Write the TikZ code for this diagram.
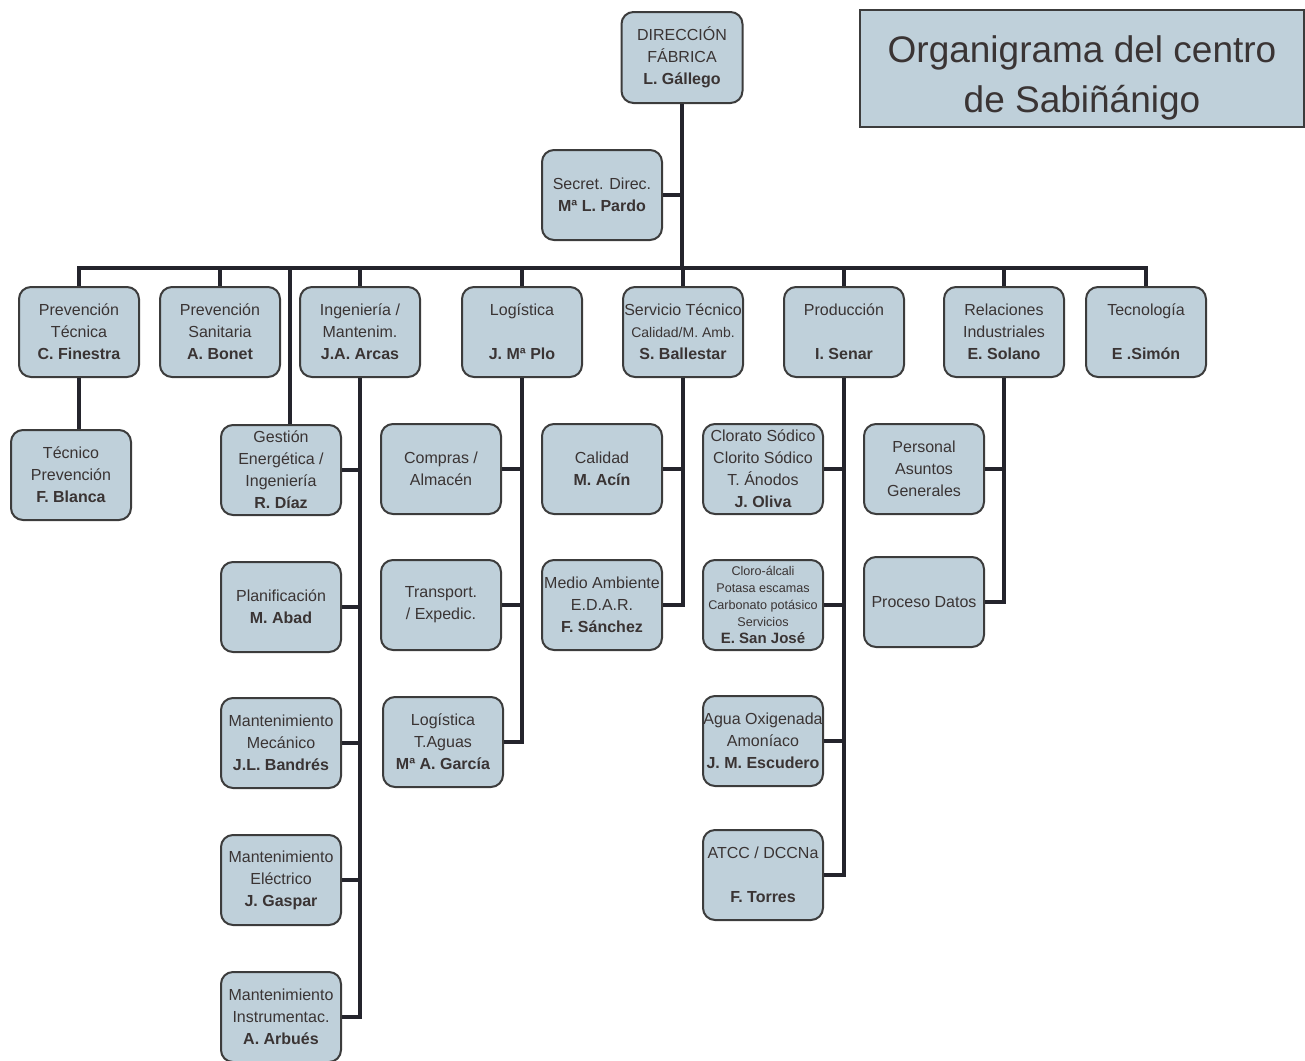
\documentclass[tikz,border=0pt]{standalone}
\usepackage{fontspec}
\setmainfont{Liberation Sans}
\usepackage{tikz}
\usepackage{xcolor}
\usetikzlibrary{positioning}
\newcommand{\orgfont}{\fontsize{8}{11}\selectfont}
\newcommand{\clorofont}{\fontsize{6.3}{8.5}\selectfont}
\newcommand{\fitline}[1]{\makebox[58pt]{#1}}
\definecolor{orgfill}{HTML}{BFD0DA}
\definecolor{orgedge}{HTML}{3C3C3C}
\definecolor{orgink}{HTML}{3A3434}
\definecolor{orgwire}{HTML}{24242C}
\tikzset{
  orgBox/.style={draw=orgedge, line width=1pt, fill=orgfill, rounded corners=6pt, align=center, inner sep=1pt, minimum width=60pt, minimum height=45pt, text=orgink, font=\orgfont},
  titleBox/.style={draw=orgedge, line width=0.8pt, fill=orgfill, align=center, text=orgink, minimum width=222pt, minimum height=58.5pt, font=\fontsize{18.5}{25}\selectfont},
  orgLine/.style={line width=2pt, draw=orgwire}
}

\begin{document}
\begin{tikzpicture}[x=0.5pt, y=-0.5pt]
  \useasboundingbox (0,0) rectangle (1305,1060);

  \node[titleBox] (title) at (1082,68.5) {\rule{0pt}{23pt}Organigrama del centro\\ de Sabiñánigo};
  \node[orgBox, minimum width=60.5pt, minimum height=45.5pt] (dir) at (682,57.5) {DIRECCIÓN\\ FÁBRICA\\ \textbf{L. Gállego}};
  \node[orgBox] (secret) at (602,195) {Secret. Direc.\\ \textbf{Mª L. Pardo}};
  \coordinate (bus) at (682,268);

  % first level
  \node[orgBox] (prevtec) at (79,332) {Prevención\\ Técnica\\ \textbf{C. Finestra}};
  \node[orgBox, right=9.5pt of prevtec] (prevsan) {Prevención\\ Sanitaria\\ \textbf{A. Bonet}};
  \node[orgBox, right=9pt of prevsan] (ing) {Ingeniería /\\ Mantenim.\\ \textbf{J.A. Arcas}};
  \node[orgBox, right=20pt of ing] (log) {Logística\\ ~\\ \textbf{J. Mª Plo}};
  \node[orgBox, right=19.5pt of log] (servtec) {\fitline{Servicio Técnico}\\ {\fontsize{7}{11}\selectfont Calidad/M. Amb.}\\ \textbf{S. Ballestar}};
  \node[orgBox, right=19.5pt of servtec] (prod) {Producción\\ ~\\ \textbf{I. Senar}};
  \node[orgBox, right=19pt of prod] (rel) {Relaciones\\ Industriales\\ \textbf{E. Solano}};
  \node[orgBox, right=10pt of rel] (tecno) {Tecnología\\ ~\\ \textbf{E .Simón}};

  % second level
  \node[orgBox] (tecprev) at (71,475) {Técnico\\ Prevención\\ \textbf{F. Blanca}};

  \node[orgBox] (gest) at (281,470) {Gestión\\ Energética /\\ Ingeniería\\ \textbf{R. Díaz}};
  \node[orgBox, below=22.5pt of gest] (plan) {Planificación\\ \textbf{M. Abad}};
  \node[orgBox, below=22pt of plan] (mmec) {Mantenimiento\\ Mecánico\\ \textbf{J.L. Bandrés}};
  \node[orgBox, below=22.5pt of mmec] (melec) {Mantenimiento\\ Eléctrico\\ \textbf{J. Gaspar}};
  \node[orgBox, below=22.5pt of melec] (minst) {Mantenimiento\\ Instrumentac.\\ \textbf{A. Arbués}};

  \node[orgBox] (compras) at (441,469) {Compras /\\ Almacén};
  \node[orgBox, below=22pt of compras] (transp) {Transport.\\ / Expedic.};
  \node[orgBox, below=22.5pt of transp, xshift=1pt] (aguas) {Logística\\ T.Aguas\\ \textbf{Mª A. García}};

  \node[orgBox] (calidad) at (602,469) {Calidad\\ \textbf{M. Acín}};
  \node[orgBox, below=22pt of calidad] (medio) {\fitline{Medio Ambiente}\\ E.D.A.R.\\ \textbf{F. Sánchez}};

  \node[orgBox] (clorato) at (763,469) {Clorato Sódico\\ Clorito Sódico\\ T. Ánodos\\ \textbf{J. Oliva}};
  \node[orgBox, below=22pt of clorato, font=\clorofont] (cloro) {Cloro-álcali\\ Potasa escamas\\ Carbonato potásico\\ Servicios\\ {\fontsize{7.5}{9}\selectfont\bfseries E. San José}};
  \node[orgBox, below=22pt of cloro] (agua) {\fitline{Agua Oxigenada}\\ Amoníaco\\ \textbf{J. M. Escudero}};
  \node[orgBox, below=21pt of agua] (atcc) {ATCC / DCCNa\\ ~\\ \textbf{F. Torres}};

  \node[orgBox] (personal) at (924,469) {Personal\\ Asuntos\\ Generales};
  \node[orgBox, below=20.5pt of personal] (datos) {Proceso Datos};

  % connectors
  \draw[orgLine] (dir) -- (bus);
  \draw[orgLine] (secret) -- (secret -| dir);
  \draw[orgLine] (prevtec) |- (bus) -| (tecno);
  \foreach \n in {prevsan,ing,log,servtec,prod,rel}
    \draw[orgLine] (\n) -- (\n |- bus);
  \draw[orgLine] ([xshift=4.5pt]gest.north) -- ([xshift=4.5pt]gest.north |- bus);
  \draw[orgLine] (prevtec) -- (prevtec.south |- tecprev.north);

  \draw[orgLine] (ing) |- (minst);
  \foreach \n in {gest,plan,mmec,melec}
    \draw[orgLine] (\n) -- (\n -| ing);
  \draw[orgLine] (log) |- (aguas);
  \foreach \n in {compras,transp}
    \draw[orgLine] (\n) -- (\n -| log);
  \draw[orgLine] (servtec) |- (medio);
  \draw[orgLine] (calidad) -- (calidad -| servtec);
  \draw[orgLine] (prod) |- (atcc);
  \foreach \n in {clorato,cloro,agua}
    \draw[orgLine] (\n) -- (\n -| prod);
  \draw[orgLine] (rel) |- (datos);
  \draw[orgLine] (personal) -- (personal -| rel);
\end{tikzpicture}
\end{document}
